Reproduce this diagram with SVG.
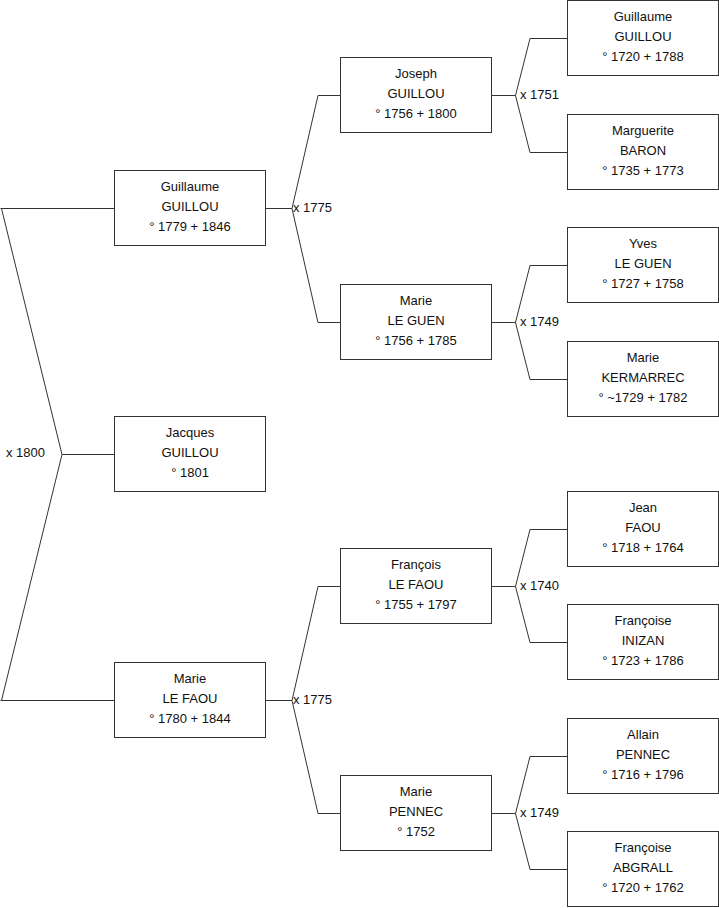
<svg xmlns="http://www.w3.org/2000/svg" width="719" height="908" viewBox="0 0 719 908">
<style>
.box{fill:#fff;stroke:#333;stroke-width:1}
.ln{fill:none;stroke:#333;stroke-width:1}
text{font-family:"Liberation Sans",Arial,sans-serif;font-size:13px;fill:#111}
.c{text-anchor:middle}
</style>
<rect x="0" y="0" width="719" height="908" fill="#fff"/>
<g id="connectors">
<path class="ln" d="M0.5,208.5 H114.5 M1.5,208.5 L62,454.5 L1.5,700.5 M0.5,700.5 H114.5 M62,454.5 H114.5"/>
<path class="ln" d="M265.5,208.5 H292 L318,95.5 H340.5 M292,208.5 L318,322.5 H340.5"/>
<path class="ln" d="M265.5,700.5 H292 L318,586.5 H340.5 M292,700.5 L318,813.5 H340.5"/>
<path class="ln" d="M491.5,95.5 H515.5 L530,38.5 H567.5 M515.5,95.5 L530,152.5 H567.5"/>
<path class="ln" d="M491.5,322.5 H515.5 L530,265.5 H567.5 M515.5,322.5 L530,379.5 H567.5"/>
<path class="ln" d="M491.5,586.5 H515.5 L530,529.5 H567.5 M515.5,586.5 L530,642.5 H567.5"/>
<path class="ln" d="M491.5,813.5 H515.5 L530,756.5 H567.5 M515.5,813.5 L530,869.5 H567.5"/>
<text x="6" y="457">x 1800</text>
<text x="293" y="211.5">x 1775</text>
<text x="293" y="703.5">x 1775</text>
<text x="520" y="98.5">x 1751</text>
<text x="520" y="325.5">x 1749</text>
<text x="520" y="589.5">x 1740</text>
<text x="520" y="816.5">x 1749</text>
</g>
<g id="n-guillaume-1779">
<rect class="box" x="114.5" y="170.5" width="151" height="75"/>
<text class="c" x="190" y="190.5">Guillaume</text><text class="c" x="190" y="210.5">GUILLOU</text><text class="c" x="190" y="230.5">° 1779 + 1846</text>
</g>
<g id="n-jacques">
<rect class="box" x="114.5" y="416.5" width="151" height="75"/>
<text class="c" x="190" y="436.5">Jacques</text><text class="c" x="190" y="456.5">GUILLOU</text><text class="c" x="190" y="476.5">° 1801</text>
</g>
<g id="n-marie-lefaou">
<rect class="box" x="114.5" y="662.5" width="151" height="75"/>
<text class="c" x="190" y="682.5">Marie</text><text class="c" x="190" y="702.5">LE FAOU</text><text class="c" x="190" y="722.5">° 1780 + 1844</text>
</g>
<g id="n-joseph">
<rect class="box" x="340.5" y="57.5" width="151" height="75"/>
<text class="c" x="416" y="77.5">Joseph</text><text class="c" x="416" y="97.5">GUILLOU</text><text class="c" x="416" y="117.5">° 1756 + 1800</text>
</g>
<g id="n-marie-leguen">
<rect class="box" x="340.5" y="284.5" width="151" height="75"/>
<text class="c" x="416" y="304.5">Marie</text><text class="c" x="416" y="324.5">LE GUEN</text><text class="c" x="416" y="344.5">° 1756 + 1785</text>
</g>
<g id="n-francois">
<rect class="box" x="340.5" y="548.5" width="151" height="75"/>
<text class="c" x="416" y="568.5">François</text><text class="c" x="416" y="588.5">LE FAOU</text><text class="c" x="416" y="608.5">° 1755 + 1797</text>
</g>
<g id="n-marie-pennec">
<rect class="box" x="340.5" y="775.5" width="151" height="75"/>
<text class="c" x="416" y="795.5">Marie</text><text class="c" x="416" y="815.5">PENNEC</text><text class="c" x="416" y="835.5">° 1752</text>
</g>
<g id="n-guillaume-1720">
<rect class="box" x="567.5" y="0.5" width="151" height="75"/>
<text class="c" x="643" y="20.5">Guillaume</text><text class="c" x="643" y="40.5">GUILLOU</text><text class="c" x="643" y="60.5">° 1720 + 1788</text>
</g>
<g id="n-marguerite">
<rect class="box" x="567.5" y="114.5" width="151" height="75"/>
<text class="c" x="643" y="134.5">Marguerite</text><text class="c" x="643" y="154.5">BARON</text><text class="c" x="643" y="174.5">° 1735 + 1773</text>
</g>
<g id="n-yves">
<rect class="box" x="567.5" y="227.5" width="151" height="75"/>
<text class="c" x="643" y="247.5">Yves</text><text class="c" x="643" y="267.5">LE GUEN</text><text class="c" x="643" y="287.5">° 1727 + 1758</text>
</g>
<g id="n-marie-kermarrec">
<rect class="box" x="567.5" y="341.5" width="151" height="75"/>
<text class="c" x="643" y="361.5">Marie</text><text class="c" x="643" y="381.5">KERMARREC</text><text class="c" x="643" y="401.5">° ~1729 + 1782</text>
</g>
<g id="n-jean">
<rect class="box" x="567.5" y="491.5" width="151" height="75"/>
<text class="c" x="643" y="511.5">Jean</text><text class="c" x="643" y="531.5">FAOU</text><text class="c" x="643" y="551.5">° 1718 + 1764</text>
</g>
<g id="n-francoise-inizan">
<rect class="box" x="567.5" y="604.5" width="151" height="75"/>
<text class="c" x="643" y="624.5">Françoise</text><text class="c" x="643" y="644.5">INIZAN</text><text class="c" x="643" y="664.5">° 1723 + 1786</text>
</g>
<g id="n-allain">
<rect class="box" x="567.5" y="718.5" width="151" height="75"/>
<text class="c" x="643" y="738.5">Allain</text><text class="c" x="643" y="758.5">PENNEC</text><text class="c" x="643" y="778.5">° 1716 + 1796</text>
</g>
<g id="n-francoise-abgrall">
<rect class="box" x="567.5" y="831.5" width="151" height="75"/>
<text class="c" x="643" y="851.5">Françoise</text><text class="c" x="643" y="871.5">ABGRALL</text><text class="c" x="643" y="891.5">° 1720 + 1762</text>
</g>
</svg>
